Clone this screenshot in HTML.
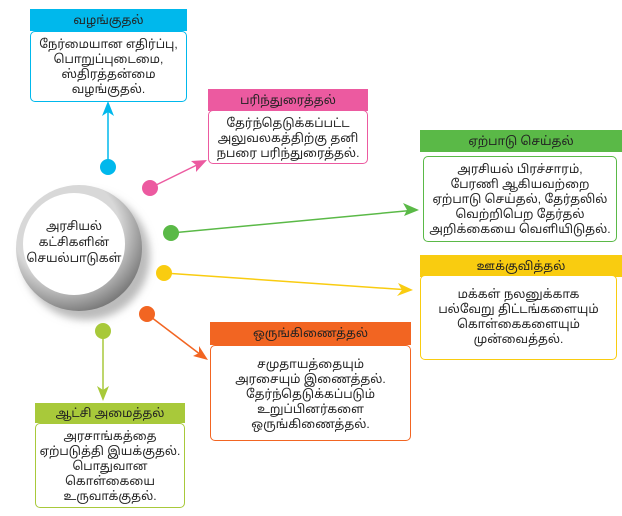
<!DOCTYPE html>
<html><head><meta charset="utf-8"><style>
body{margin:0;width:622px;height:516px;background:#fff;position:relative;overflow:hidden;font-family:"Liberation Sans","Noto Sans Tamil","Lohit Tamil",sans-serif;color:#222}
.h{position:absolute;text-align:center;font-size:12px;color:#222;line-height:22px}
.b{position:absolute;text-align:center;font-size:12px;line-height:15px;background:#fff;border:1.5px solid;border-radius:5px;box-sizing:border-box;padding-top:5px}
</style></head><body>
<svg width="622" height="516" style="position:absolute;left:0;top:0">
<defs>
<radialGradient id="g" cx="0.4" cy="0.35" r="0.7"><stop offset="0.6" stop-color="#d8d8d8"/><stop offset="1" stop-color="#707070"/></radialGradient>
<filter id="s"><feGaussianBlur stdDeviation="4"/></filter>
</defs>
<circle cx="86" cy="256" r="64" fill="#bbb" filter="url(#s)"/>
<circle cx="79" cy="248" r="63" fill="url(#g)"/>
<circle cx="74" cy="244" r="51" fill="#fff"/>
<g stroke-width="1.5" fill="none">
<line x1="108" y1="165" x2="108" y2="104" stroke="#00b8ec"/>
<line x1="150" y1="188" x2="205" y2="161" stroke="#ec5aa0"/>
<line x1="171" y1="233" x2="416" y2="210" stroke="#5ab947"/>
<line x1="164" y1="273" x2="410" y2="290" stroke="#f9cc10"/>
<line x1="147" y1="314" x2="205" y2="358" stroke="#f26522"/>
<line x1="103" y1="331" x2="103" y2="398" stroke="#a8c93a"/>
</g>
<polygon points="108,101 102,116 108,112 114,116" fill="#00b8ec"/>
<polygon points="207,160 191,161 196,165 196,172" fill="#ec5aa0"/>
<polygon points="419,210 403,203 407,210 404,216" fill="#5ab947"/>
<polygon points="413,290 398,283 402,290 397,296" fill="#f9cc10"/>
<polygon points="208,360 199,346 199,353 193,356" fill="#f26522"/>
<polygon points="103,401 97,386 103,390 109,386" fill="#a8c93a"/>
<circle cx="108" cy="167" r="8" fill="#00b8ec"/>
<circle cx="150" cy="188" r="8" fill="#ec5aa0"/>
<circle cx="171" cy="233" r="8" fill="#5ab947"/>
<circle cx="164" cy="273" r="8" fill="#f9cc10"/>
<circle cx="147" cy="314" r="8" fill="#f26522"/>
<circle cx="103" cy="331" r="8" fill="#a8c93a"/>
</svg>
<div style="position:absolute;left:24px;top:218px;width:100px;text-align:center;font-size:12px;line-height:16px">அரசியல்<br>கட்சிகளின்<br>செயல்பாடுகள்</div>

<div class="h" style="left:30px;top:9px;width:157px;background:#00b8ec">வழங்குதல்</div>
<div class="b" style="left:30px;top:31px;width:157px;height:71px;border-color:#00b8ec">நேர்மையான எதிர்ப்பு,<br>பொறுப்புடைமை,<br>ஸ்திரத்தன்மை<br>வழங்குதல்.</div>

<div class="h" style="left:208px;top:89px;width:160px;background:#ec5aa0">பரிந்துரைத்தல்</div>
<div class="b" style="left:208px;top:110px;width:160px;height:54px;border-color:#ec5aa0">தேர்ந்தெடுக்கப்பட்ட<br>அலுவலகத்திற்கு தனி<br>நபரை பரிந்துரைத்தல்.</div>

<div class="h" style="left:420px;top:130px;width:202px;background:#5ab947">ஏற்பாடு செய்தல்</div>
<div class="b" style="left:423px;top:156px;width:194px;height:86px;border-color:#5ab947">அரசியல் பிரச்சாரம்,<br>பேரணி ஆகியவற்றை<br>ஏற்பாடு செய்தல், தேர்தலில்<br>வெற்றிபெற தேர்தல்<br>அறிக்கையை வெளியிடுதல்.</div>

<div class="h" style="left:420px;top:255px;width:202px;background:#f9cc10;line-height:22px">ஊக்குவித்தல்</div>
<div class="b" style="left:420px;top:275px;width:197px;height:85px;border-color:#f9cc10;padding-top:11px">மக்கள் நலனுக்காக<br>பல்வேறு திட்டங்களையும்<br>கொள்கைகளையும்<br>முன்வைத்தல்.</div>

<div class="h" style="left:210px;top:322px;width:201px;background:#f26522;line-height:23px">ஒருங்கிணைத்தல்</div>
<div class="b" style="left:210px;top:345px;width:201px;height:96px;border-color:#f26522;padding-top:11px">சமுதாயத்தையும்<br>அரசையும் இணைத்தல்.<br>தேர்ந்தெடுக்கப்படும்<br>உறுப்பினர்களை<br>ஒருங்கிணைத்தல்.</div>

<div class="h" style="left:35px;top:403px;width:150px;background:#a8c93a;line-height:20px">ஆட்சி அமைத்தல்</div>
<div class="b" style="left:35px;top:423px;width:150px;height:85px;border-color:#a8c93a;padding-top:5px">அரசாங்கத்தை<br>ஏற்படுத்தி இயக்குதல்.<br>பொதுவான<br>கொள்கையை<br>உருவாக்குதல்.</div>
</body></html>
